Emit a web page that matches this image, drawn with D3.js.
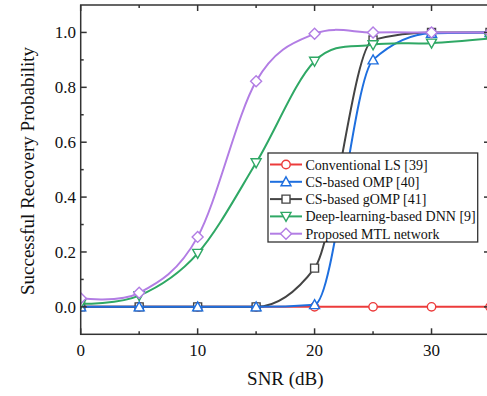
<!DOCTYPE html>
<html><head><meta charset="utf-8">
<script src="https://cdn.jsdelivr.net/npm/d3@7"></script>
<style>body{margin:0;background:#fff}svg{display:block}</style>
</head><body>
<svg id="c" width="487" height="396" font-family="'Liberation Serif', 'Times New Roman', serif"></svg>
<script>
const snr = [0, 5, 10, 15, 20, 25, 30, 35];
const lsVals   = [0, 0, 0, 0, 0, 0, 0, 0];
const ompVals  = [0, 0, 0, 0, 0.008, 0.9, 0.997, 1.0];
const gompVals = [0, 0, 0, 0, 0.141, 0.973, 1.0, 1.0];
const dnnVals  = [0.011, 0.041, 0.195, 0.525, 0.895, 0.955, 0.961, 0.978];
const mtlVals  = [0.031, 0.051, 0.255, 0.822, 0.995, 1.0, 1.0, 1.0];
const seriesNames = ["Conventional LS [39]", "CS-based OMP [40]", "CS-based gOMP [41]", "Deep-learning-based DNN [9]", "Proposed MTL network"];
const xTicks = [0, 10, 20, 30];
const yTicks = [0, 0.2, 0.4, 0.6, 0.8, 1.0];
const xTitle = "SNR (dB)";
const yTitle = "Successful Recovery Probability";

const L = 80.7, R = 490, T = 5, B = 334.3;
const x = d3.scaleLinear().domain([0, 35]).range([L, R]);
const y = d3.scaleLinear().domain([-0.1, 1.1]).range([B, T]);
const svg = d3.select("#c");
const FONT = "'Liberation Serif', 'Times New Roman', serif";

const series = [
  {name: seriesNames[0], vals: lsVals,   color: "#ec3b3b", sym: "circle",  curve: d3.curveLinear},
  {name: seriesNames[1], vals: ompVals,  color: "#1e6fdf", sym: "tri",     curve: d3.curveMonotoneX},
  {name: seriesNames[2], vals: gompVals, color: "#444444", sym: "square",  curve: d3.curveMonotoneX},
  {name: seriesNames[3], vals: dnnVals,  color: "#2fa865", sym: "tridown", curve: d3.curveCardinal.tension(0)},
  {name: seriesNames[4], vals: mtlVals,  color: "#b27de4", sym: "diamond", curve: d3.curveCardinal.tension(0)}
];
const drawOrder = [0, 2, 1, 3, 4];

svg.append("defs").append("clipPath").attr("id", "clip")
  .append("rect").attr("x", L).attr("y", T).attr("width", R - L).attr("height", B - T);

function marker(g, sym, cx, cy, color) {
  const sw = 1.4;
  if (sym === "circle") {
    g.append("circle").attr("cx", cx).attr("cy", cy).attr("r", 4.2)
      .attr("fill", "#fff").attr("stroke", color).attr("stroke-width", sw);
  } else {
    let pts;
    if (sym === "tri") pts = [[0, -5], [5, 4], [-5, 4]];
    else if (sym === "tridown") pts = [[0, 5], [5, -4], [-5, -4]];
    else if (sym === "square") pts = [[-4, -4], [4, -4], [4, 4], [-4, 4]];
    else pts = [[0, -5.5], [5.5, 0], [0, 5.5], [-5.5, 0]];
    g.append("polygon").attr("points", pts.map(p => (cx + p[0]) + "," + (cy + p[1])).join(" "))
      .attr("fill", "#fff").attr("stroke", color).attr("stroke-width", sw);
  }
}

const plot = svg.append("g").attr("clip-path", "url(#clip)");
drawOrder.forEach(i => {
  const s = series[i];
  const g = plot.append("g");
  const line = d3.line().x((d, k) => x(snr[k])).y(d => y(d)).curve(s.curve);
  g.append("path").attr("d", line(s.vals)).attr("fill", "none")
    .attr("stroke", s.color).attr("stroke-width", 2);
  s.vals.forEach((v, k) => marker(g, s.sym, x(snr[k]), y(v), s.color));
});

// axes frame
const ax = svg.append("g").attr("stroke", "#333").attr("stroke-width", 1.5);
ax.append("rect").attr("x", L).attr("y", T).attr("width", R - L).attr("height", B - T).attr("fill", "none");
const xMinor = [5, 15, 25, 35];
const yMinor = [0.1, 0.3, 0.5, 0.7, 0.9];
xTicks.forEach(t => {
  ax.append("line").attr("x1", x(t)).attr("x2", x(t)).attr("y1", B).attr("y2", B - 6);
  ax.append("line").attr("x1", x(t)).attr("x2", x(t)).attr("y1", T).attr("y2", T + 6);
});
xMinor.forEach(t => {
  ax.append("line").attr("x1", x(t)).attr("x2", x(t)).attr("y1", B).attr("y2", B - 3);
  ax.append("line").attr("x1", x(t)).attr("x2", x(t)).attr("y1", T).attr("y2", T + 3);
});
yTicks.forEach(t => {
  ax.append("line").attr("x1", L).attr("x2", L + 6).attr("y1", y(t)).attr("y2", y(t));
  ax.append("line").attr("x1", R).attr("x2", R - 6).attr("y1", y(t)).attr("y2", y(t));
});
yMinor.forEach(t => {
  ax.append("line").attr("x1", L).attr("x2", L + 3).attr("y1", y(t)).attr("y2", y(t));
  ax.append("line").attr("x1", R).attr("x2", R - 3).attr("y1", y(t)).attr("y2", y(t));
});

// tick labels
xTicks.forEach(t => {
  svg.append("text").attr("x", x(t)).attr("y", 356).attr("text-anchor", "middle")
    .attr("font-family", FONT).attr("fill", "#111")
    .attr("font-size", 17).text(d3.format("d")(t));
});
yTicks.forEach(t => {
  svg.append("text").attr("x", 76).attr("y", y(t) + 6).attr("text-anchor", "end")
    .attr("font-family", FONT).attr("fill", "#111")
    .attr("font-size", 17).text(d3.format(".1f")(t));
});
svg.append("text").attr("x", (L + R) / 2).attr("y", 385).attr("text-anchor", "middle")
  .attr("font-family", FONT).attr("fill", "#111")
  .attr("font-size", 19).text(xTitle);
svg.append("text").attr("transform", "translate(34,171) rotate(-90)").attr("text-anchor", "middle")
  .attr("font-family", FONT).attr("fill", "#111")
  .attr("font-size", 19).text(yTitle);

// legend
const lg = svg.append("g");
lg.append("rect").attr("x", 268).attr("y", 153).attr("width", 209.7).attr("height", 89)
  .attr("fill", "#fff").attr("stroke", "#333").attr("stroke-width", 1.3);
series.forEach((s, i) => {
  const cy = 164.5 + i * 17.3;
  lg.append("line").attr("x1", 270).attr("x2", 302).attr("y1", cy).attr("y2", cy)
    .attr("stroke", s.color).attr("stroke-width", 2);
  marker(lg, s.sym, 286, cy, s.color);
  lg.append("text").attr("x", 305.5).attr("y", cy + 5).attr("font-size", 14)
    .attr("font-family", FONT).attr("fill", "#111").text(s.name);
});
</script>
</body></html>
